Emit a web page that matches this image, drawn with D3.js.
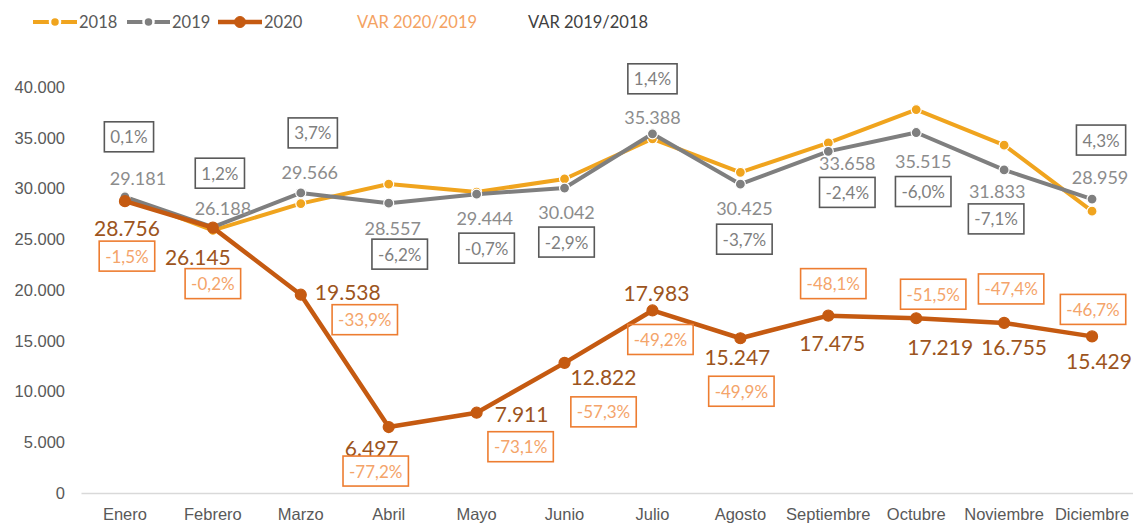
<!DOCTYPE html>
<html>
<head>
<meta charset="utf-8">
<script src="https://cdn.jsdelivr.net/npm/d3@7"></script>
<style>
  body { margin: 0; background: #fff; }
  svg { font-family: Lato, "Open Sans", sans-serif; }
</style>
</head>
<body>
<script>
const months = ["Enero", "Febrero", "Marzo", "Abril", "Mayo", "Junio",
                "Julio", "Agosto", "Septiembre", "Octubre", "Noviembre", "Diciembre"];

// values (2018 has no labels, estimated from the line)
const v2018 = [29150, 25880, 28510, 30440, 29650, 30940, 34900, 31590, 34490, 37780, 34270, 27770];
const v2019 = [29181, 26188, 29566, 28557, 29444, 30042, 35388, 30425, 33658, 35515, 31833, 28959];
const v2020 = [28756, 26145, 19538, 6497, 7911, 12822, 17983, 15247, 17475, 17219, 16755, 15429];

const var1918 = ["0,1%", "1,2%", "3,7%", "-6,2%", "-0,7%", "-2,9%", "1,4%", "-3,7%", "-2,4%", "-6,0%", "-7,1%", "4,3%"];
const var2019 = ["-1,5%", "-0,2%", "-33,9%", "-77,2%", "-73,1%", "-57,3%", "-49,2%", "-49,9%", "-48,1%", "-51,5%", "-47,4%", "-46,7%"];

const yTicks = [0, 5000, 10000, 15000, 20000, 25000, 30000, 35000, 40000];

// label placement, offsets from the point (hand placed in the original)
const off2019 = [[13,-19],[10,-19],[9,-21],[4,25],[8,24],[2,24],[0,-17],[4,24],[19,12],[7,28],[-7,21],[8,-22]];
const offBox1918 = [[4,-60],[7,-54],[12,-60],[11,51],[10,54],[2,54],[0,-55],[4,55],[19,41],[7,59],[-8,49],[9,-59]];
const off2020 = [[2,26],[-15,29],[47,-3],[-17,20],[45,1],[39,14],[4,-18],[-3,18],[4,27],[24,28],[10,24],[7,24]];
const offBox2020 = [[2,55],[0,56],[64,25],[-13,44],[44,34],[39,49],[8,29],[1,53],[5,-32],[17,-24],[7,-34],[1,-27]];

const width = 1133, height = 524;

const fmt = d3.formatLocale({decimal: ",", thousands: ".", grouping: [3], currency: ["", ""]}).format(",");

const svg = d3.select("body").append("svg")
    .attr("width", width)
    .attr("height", height);

const x = d3.scaleBand().domain(months).range([81, 1136]);
const cx = m => x(m) + x.bandwidth() / 2;
const y = d3.scaleLinear().domain([0, 40000]).range([493, 87]);

// axes
const yAxis = svg.append("g")
    .attr("transform", "translate(72,0)")
    .call(d3.axisLeft(y).tickValues(yTicks).tickSize(0).tickPadding(7).tickFormat(fmt));
yAxis.select(".domain").remove();
yAxis.selectAll("text").attr("font-size", 16.5).attr("fill", "#595959").attr("font-family", null);

const xAxis = svg.append("g")
    .attr("transform", "translate(0,493)")
    .call(d3.axisBottom(x).tickSize(0).tickPadding(15));
xAxis.select(".domain").attr("stroke", "#d9d9d9").attr("stroke-width", 1.5);
xAxis.selectAll("text").attr("font-size", 16.5).attr("fill", "#595959").attr("font-family", null);

const series = [
    {name: "2018", values: v2018, color: "#f0a41e", width: 4, r: 5, ring: "#fff"},
    {name: "2019", values: v2019, color: "#7f7f7f", width: 4, r: 5, ring: "#fff"},
    {name: "2020", values: v2020, color: "#c55a11", width: 4.5, r: 5.5, ring: "#c55a11"}
];

const lineFunction = d3.line()
    .x((d, i) => cx(months[i]))
    .y(d => y(d));

series.forEach(function(s) {
    svg.append("path")
        .attr("d", lineFunction(s.values))
        .attr("fill", "none")
        .attr("stroke", s.color)
        .attr("stroke-width", s.width)
        .attr("stroke-linejoin", "round");

    svg.append("g").selectAll("circle")
        .data(s.values)
        .enter().append("circle")
        .attr("cx", (d, i) => cx(months[i]))
        .attr("cy", d => y(d))
        .attr("r", s.r)
        .attr("fill", s.color)
        .attr("stroke", s.ring)
        .attr("stroke-width", 1.2);
});

// value labels
svg.append("g").selectAll("text")
    .data(v2019)
    .enter().append("text")
    .attr("x", (d, i) => cx(months[i]) + off2019[i][0])
    .attr("y", (d, i) => y(d) + off2019[i][1])
    .attr("text-anchor", "middle")
    .attr("dominant-baseline", "central")
    .attr("font-size", 18)
    .attr("fill", "#8c8c8c")
    .text(d => fmt(d));

svg.append("g").selectAll("text")
    .data(v2020)
    .enter().append("text")
    .attr("x", (d, i) => cx(months[i]) + off2020[i][0])
    .attr("y", (d, i) => y(d) + off2020[i][1])
    .attr("text-anchor", "middle")
    .attr("dominant-baseline", "central")
    .attr("font-size", 21)
    .attr("fill", "#9c5420")
    .text(d => fmt(d));

// boxed variation labels
function boxes(labels, base, offs, stroke, fill) {
    const g = svg.append("g");
    labels.forEach(function(t, i) {
        const px = cx(months[i]) + offs[i][0],
              py = y(base[i]) + offs[i][1];
        const rect = g.append("rect");
        const txt = g.append("text")
            .attr("x", px)
            .attr("y", py)
            .attr("text-anchor", "middle")
            .attr("dominant-baseline", "central")
            .attr("font-size", 17)
            .attr("fill", fill)
            .text(t);
        const bb = txt.node().getBBox();
        rect.attr("x", px - bb.width / 2 - 6)
            .attr("y", py - 15)
            .attr("width", bb.width + 12)
            .attr("height", 30)
            .attr("fill", "none")
            .attr("stroke", stroke)
            .attr("stroke-width", 1.6);
    });
}
boxes(var1918, v2019, offBox1918, "#595959", "#7f7f7f");
boxes(var2019, v2020, offBox2020, "#ed7d31", "#f4a46a");

// legend
const legend = svg.append("g").attr("font-size", 16.5);
const legendItems = [
    {s: series[0], x0: 33, x1: 77, text: 79},
    {s: series[1], x0: 127, x1: 170, text: 172},
    {s: series[2], x0: 218, x1: 262, text: 264}
];
legendItems.forEach(function(it) {
    legend.append("line")
        .attr("x1", it.x0).attr("x2", it.x1)
        .attr("y1", 22).attr("y2", 22)
        .attr("stroke", it.s.color)
        .attr("stroke-width", it.s.width);
    legend.append("circle")
        .attr("cx", (it.x0 + it.x1) / 2).attr("cy", 22)
        .attr("r", it.s.r)
        .attr("fill", it.s.color)
        .attr("stroke", it.s.ring === "#fff" ? "#fff" : it.s.color)
        .attr("stroke-width", it.s.ring === "#fff" ? 2.5 : 1);
    legend.append("text")
        .attr("x", it.text).attr("y", 22)
        .attr("dominant-baseline", "central")
        .attr("fill", "#595959")
        .text(it.s.name);
});
legend.append("text")
    .attr("x", 357).attr("y", 22)
    .attr("dominant-baseline", "central")
    .attr("fill", "#f4a262")
    .text("VAR 2020/2019");
legend.append("text")
    .attr("x", 528).attr("y", 22)
    .attr("dominant-baseline", "central")
    .attr("fill", "#404040")
    .text("VAR 2019/2018");
</script>
</body>
</html>
